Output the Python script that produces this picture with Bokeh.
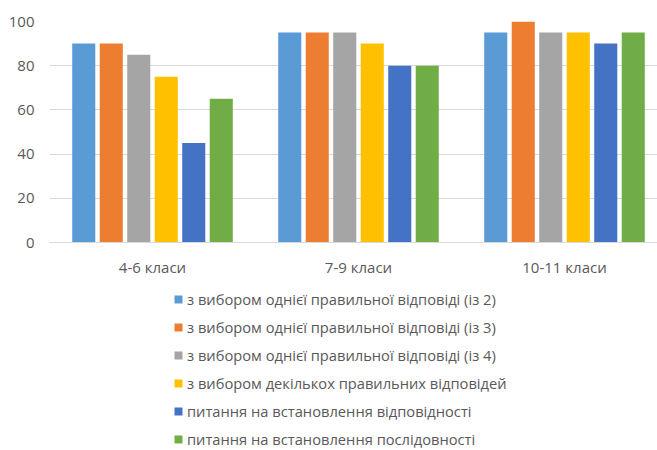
from bokeh.plotting import figure
from bokeh.models import ColumnDataSource, Legend, LegendItem, FixedTicker, Range1d
from bokeh.layouts import column
from bokeh.embed import file_html
from bokeh.resources import INLINE

categories = ["4-6 класи", "7-9 класи", "10-11 класи"]
series_names = [
    "з вибором однієї правильної відповіді (із 2)",
    "з вибором однієї правильної відповіді (із 3)",
    "з вибором однієї правильної відповіді (із 4)",
    "з вибором декількох правильних відповідей",
    "питання на встановлення відповідності",
    "питання на встановлення послідовності",
]
s1 = [90, 95, 95]
s2 = [90, 95, 100]
s3 = [85, 95, 95]
s4 = [75, 90, 95]
s5 = [45, 80, 90]
s6 = [65, 80, 95]
series_values = [s1, s2, s3, s4, s5, s6]
y_ticks = [0, 20, 40, 60, 80, 100]

colors = ["#5B9BD5", "#ED7D31", "#A5A5A5", "#FFC000", "#4472C4", "#70AD47"]
FONT = "Open Sans"
TXT = "#595959"

step = 0.1335
bar_w = 0.112
p = figure(width=657, height=279, output_backend="svg", toolbar_location=None,
           x_range=Range1d(0, 608 / 206), y_range=Range1d(0, 100),
           min_border_left=49, min_border_right=0, min_border_top=21, min_border_bottom=34)
p.outline_line_color = None
p.background_fill_color = "white"

n = len(series_values)
for j, (name, vals) in enumerate(zip(series_names, series_values)):
    xs = [i + 0.5 + (j - (n - 1) / 2) * step for i in range(len(categories))]
    src = ColumnDataSource(dict(x=xs, top=vals))
    p.vbar(x="x", top="top", width=bar_w, bottom=0, source=src,
           fill_color=colors[j], line_color=None)

p.xgrid.visible = False
p.ygrid.grid_line_color = "#D9D9D9"
p.ygrid.ticker = FixedTicker(ticks=y_ticks)

p.yaxis.ticker = FixedTicker(ticks=y_ticks)
p.yaxis.axis_line_color = None
p.yaxis.major_tick_line_color = None
p.yaxis.minor_tick_line_color = None
p.yaxis.major_tick_out = 0
p.yaxis.major_label_text_font = FONT
p.yaxis.major_label_text_font_size = "15px"
p.yaxis.major_label_text_color = TXT
p.yaxis.major_label_standoff = 15

p.xaxis.ticker = FixedTicker(ticks=[i + 0.5 for i in range(len(categories))])
p.xaxis.major_label_overrides = {i + 0.5: c for i, c in enumerate(categories)}
p.xaxis.axis_line_color = "#D9D9D9"
p.xaxis.major_tick_line_color = None
p.xaxis.minor_tick_line_color = None
p.xaxis.major_tick_out = 0
p.xaxis.major_label_text_font = FONT
p.xaxis.major_label_text_font_size = "15px"
p.xaxis.major_label_text_color = TXT
p.xaxis.major_label_standoff = 14

# legend-only figure below the chart
lg = figure(width=657, height=171, output_backend="svg", toolbar_location=None,
            x_range=Range1d(0, 1), y_range=Range1d(0, 1),
            x_axis_type=None, y_axis_type=None,
            min_border_left=0, min_border_right=0, min_border_top=0, min_border_bottom=0)
lg.outline_line_color = None
lg.xgrid.visible = False
lg.ygrid.visible = False

items = []
for j, name in enumerate(series_names):
    r = lg.vbar(x=[10], top=[1], width=0.1, fill_color=colors[j], line_color=None)
    items.append(LegendItem(label=name, renderers=[r]))

legend = Legend(items=items, orientation="vertical", location=(124, -1),
                label_text_font=FONT, label_text_font_size="14.7px", label_text_color=TXT,
                glyph_width=10, glyph_height=10, label_height=24, spacing=4,
                label_standoff=4, padding=0, margin=0, border_line_color=None,
                background_fill_alpha=0)
lg.add_layout(legend, "center")

layout = column(p, lg, spacing=0)
open("out.html", "w").write(file_html(layout, INLINE))
